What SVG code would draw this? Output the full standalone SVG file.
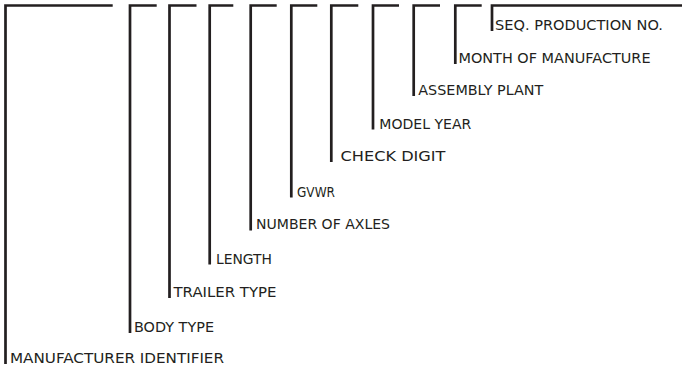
<svg xmlns="http://www.w3.org/2000/svg" width="687" height="366" viewBox="0 0 687 366">
<style>
.ln{fill:none;stroke:#231f20;stroke-width:2.7;stroke-linecap:butt;stroke-linejoin:miter}
.t{font-family:"DejaVu Sans","Liberation Sans",sans-serif;font-size:14px;fill:#231f20}
</style>
<rect width="687" height="366" fill="#fff"/>
<g id="connectors">
<polyline class="ln" points="5.5,364 5.5,5.5 112.7,5.5"/>
<polyline class="ln" points="130,333 130,5.5 156.7,5.5"/>
<polyline class="ln" points="169.5,298 169.5,5.5 196.5,5.5"/>
<polyline class="ln" points="209.7,264.5 209.7,5.5 233.3,5.5"/>
<polyline class="ln" points="250.7,230.5 250.7,5.5 276.7,5.5"/>
<polyline class="ln" points="291.3,197.5 291.3,5.5 317.3,5.5"/>
<polyline class="ln" points="331.3,162 331.3,5.5 358.3,5.5"/>
<polyline class="ln" points="373,129.5 373,5.5 399,5.5"/>
<polyline class="ln" points="413.7,96 413.7,5.5 440,5.5"/>
<polyline class="ln" points="455.3,64 455.3,5.5 481.7,5.5"/>
<polyline class="ln" points="492,31 492,5.5 682,5.5"/>
</g>
<g id="n-seq"><text class="t" x="495" y="30" textLength="168" lengthAdjust="spacingAndGlyphs">SEQ. PRODUCTION NO.</text></g>
<g id="n-month"><text class="t" x="458.5" y="63" textLength="192" lengthAdjust="spacingAndGlyphs">MONTH OF MANUFACTURE</text></g>
<g id="n-plant"><text class="t" x="418.3" y="94.5" textLength="125" lengthAdjust="spacingAndGlyphs">ASSEMBLY PLANT</text></g>
<g id="n-year"><text class="t" x="379.3" y="128.5" textLength="92" lengthAdjust="spacingAndGlyphs">MODEL YEAR</text></g>
<g id="n-check"><text class="t" x="340.5" y="161" textLength="105" lengthAdjust="spacingAndGlyphs">CHECK DIGIT</text></g>
<g id="n-gvwr"><text class="t" x="297" y="196.5" textLength="38" lengthAdjust="spacingAndGlyphs">GVWR</text></g>
<g id="n-axles"><text class="t" x="256" y="229" textLength="134" lengthAdjust="spacingAndGlyphs">NUMBER OF AXLES</text></g>
<g id="n-length"><text class="t" x="216" y="264" textLength="56" lengthAdjust="spacingAndGlyphs">LENGTH</text></g>
<g id="n-trailer"><text class="t" x="173.5" y="297" textLength="103" lengthAdjust="spacingAndGlyphs">TRAILER TYPE</text></g>
<g id="n-body"><text class="t" x="134" y="332" textLength="80" lengthAdjust="spacingAndGlyphs">BODY TYPE</text></g>
<g id="n-manuf"><text class="t" x="10" y="363" textLength="214" lengthAdjust="spacingAndGlyphs">MANUFACTURER IDENTIFIER</text></g>
</svg>
